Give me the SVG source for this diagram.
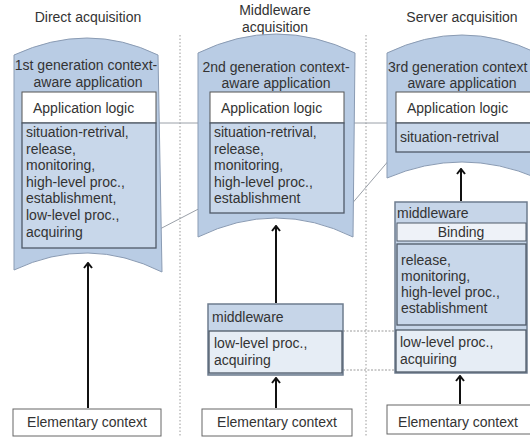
<svg xmlns="http://www.w3.org/2000/svg" width="530" height="437" viewBox="0 0 530 437">
<defs>
<style>
text{font-family:"Liberation Sans",Arial,sans-serif;font-size:14px;fill:#333}
.c{text-anchor:middle}
.banner{fill:#b9cce4;stroke:#8a9bb3;stroke-width:1}
.logic{fill:#fff;stroke:#555;stroke-width:1}
.inner{fill:#c8d7ea;stroke:#4f5a68;stroke-width:1.3}
.mw{fill:#c6d5e8;stroke:#6e7c8e;stroke-width:1.5}
.light{fill:#e6edf5;stroke:#4f5a68;stroke-width:1.3}
.bind{fill:#eef2f8;stroke:#4f5a68;stroke-width:1}
.elem{fill:#fff;stroke:#666;stroke-width:1}
.sep{stroke:#9a9a9a;stroke-width:1;stroke-dasharray:1.5 2;fill:none}
.thin{stroke:#9aa0a8;stroke-width:1;fill:none}
.dot{stroke:#9a9a9a;stroke-width:1;stroke-dasharray:2 1.5;fill:none}
.arr{stroke:#111;stroke-width:2;fill:none;marker-end:url(#ah)}
</style>
<marker id="ah" viewBox="0 0 10 10" refX="9" refY="5" markerWidth="10" markerHeight="10" orient="auto" markerUnits="userSpaceOnUse">
<path d="M4,1 L9,5 L4,9" fill="none" stroke="#111" stroke-width="2"/>
</marker>
</defs>
<rect width="530" height="437" fill="#fff"/>

<g id="connectors">
<line class="sep" x1="180" y1="35" x2="180" y2="437"/>
<line class="sep" x1="366" y1="35" x2="366" y2="437"/>
<line class="thin" x1="156" y1="123" x2="396" y2="123"/>
<line class="thin" x1="156" y1="231" x2="210" y2="203"/>
<line class="thin" x1="344" y1="213" x2="396" y2="152"/>
<line class="dot" x1="343" y1="331" x2="396" y2="331"/>
<line class="dot" x1="343" y1="370" x2="396" y2="370"/>
</g>

<g id="titles">
<text class="c" x="88" y="22">Direct acquisition</text>
<text class="c" x="275" y="15">Middleware</text>
<text class="c" x="275" y="32">acquisition</text>
<text class="c" x="462" y="22">Server acquisition</text>
</g>

<g id="app1">
<path class="banner" d="M14,55 Q88,21 158,55 L162,272 Q88,235 14,270 Z"/>
<text class="c" x="86" y="70">1st generation context-</text>
<text class="c" x="88" y="87">aware application</text>
<rect class="logic" x="22" y="92" width="134" height="31"/>
<text x="33" y="113">Application logic</text>
<rect class="inner" x="22" y="123" width="134" height="125"/>
<text x="26" y="137">situation-retrival,</text>
<text x="26" y="153.6">release,</text>
<text x="26" y="170.2">monitoring,</text>
<text x="26" y="186.8">high-level proc.,</text>
<text x="26" y="203.4">establishment,</text>
<text x="26" y="220">low-level proc.,</text>
<text x="26" y="236.6">acquiring</text>
</g>

<g id="app2">
<path class="banner" d="M198,53 Q276,15 355,53 L353,237 Q276,199 198,237 Z"/>
<text class="c" x="276" y="72">2nd generation context-</text>
<text class="c" x="276" y="88">aware application</text>
<rect class="logic" x="210" y="92" width="134" height="31"/>
<text x="221" y="113">Application logic</text>
<rect class="inner" x="210" y="123" width="134" height="90"/>
<text x="214" y="137">situation-retrival,</text>
<text x="214" y="153.6">release,</text>
<text x="214" y="170.2">monitoring,</text>
<text x="214" y="186.8">high-level proc.,</text>
<text x="214" y="203.4">establishment</text>
</g>

<g id="app3">
<path class="banner" d="M387,53 Q462,17 537,53 L537,178 Q462,146 387,178 Z"/>
<text x="388" y="72">3rd generation context</text>
<text class="c" x="462" y="88">aware application</text>
<rect class="logic" x="396" y="92" width="140" height="31"/>
<text x="407" y="113">Application logic</text>
<rect class="inner" x="396" y="123" width="140" height="29"/>
<text x="400" y="142">situation-retrival</text>
</g>

<g id="mw2">
<rect class="mw" x="208" y="304" width="135" height="71"/>
<text x="212" y="322">middleware</text>
<rect class="light" x="209" y="331" width="133" height="42"/>
<text x="214" y="348">low-level proc.,</text>
<text x="214" y="365">acquiring</text>
</g>

<g id="mw3">
<rect class="mw" x="395" y="202" width="132" height="171"/>
<text x="397" y="218">middleware</text>
<rect class="bind" x="397" y="223" width="129" height="18"/>
<text class="c" x="461" y="237">Binding</text>
<rect class="inner" x="397" y="244" width="129" height="81"/>
<text x="401" y="265">release,</text>
<text x="401" y="281">monitoring,</text>
<text x="401" y="297">high-level proc.,</text>
<text x="401" y="313">establishment</text>
<rect class="light" x="396" y="330" width="130" height="42"/>
<text x="400" y="347">low-level proc.,</text>
<text x="400" y="364">acquiring</text>
</g>

<g id="elem1">
<rect class="elem" x="13" y="409" width="148" height="27"/>
<text class="c" x="87" y="427">Elementary context</text>
</g>
<g id="elem2">
<rect class="elem" x="202" y="409" width="150" height="27"/>
<text class="c" x="277" y="427">Elementary context</text>
</g>
<g id="elem3">
<rect class="elem" x="387" y="405" width="150" height="29"/>
<text class="c" x="458" y="427">Elementary context</text>
</g>

<g id="arrows">
<line class="arr" x1="88" y1="408" x2="88" y2="263"/>
<line class="arr" x1="276" y1="303" x2="276" y2="226"/>
<line class="arr" x1="276" y1="408" x2="276" y2="378"/>
<line class="arr" x1="461" y1="201" x2="461" y2="169"/>
<line class="arr" x1="460" y1="404" x2="460" y2="376"/>
</g>
</svg>
